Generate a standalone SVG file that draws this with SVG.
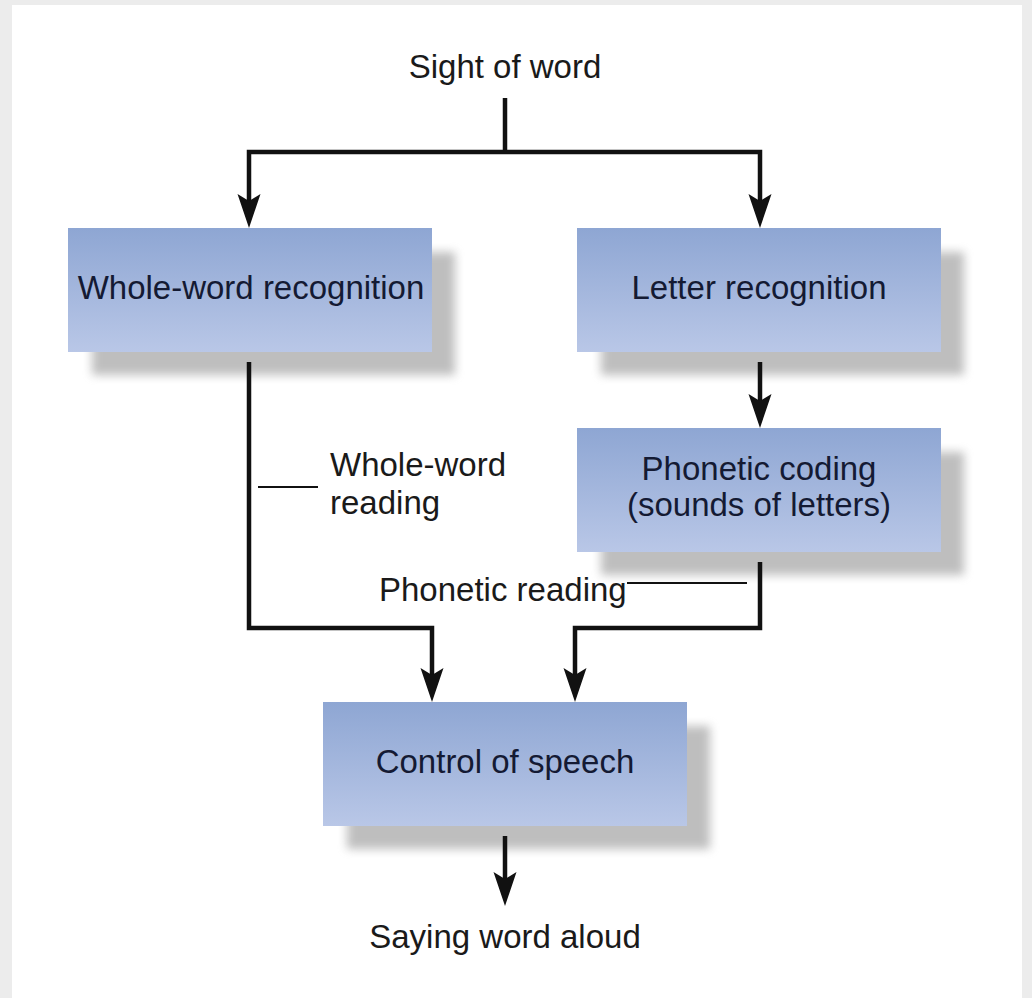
<svg xmlns="http://www.w3.org/2000/svg" width="1032" height="998" viewBox="0 0 1032 998">
  <defs>
    <linearGradient id="boxGrad" x1="0" y1="0" x2="0" y2="1">
      <stop offset="0" stop-color="#8ea6d3"/>
      <stop offset="1" stop-color="#b9c7e7"/>
    </linearGradient>
    <filter id="shadowBlur" x="-20%" y="-30%" width="140%" height="160%">
      <feGaussianBlur stdDeviation="5"/>
    </filter>
    <marker id="arrow" markerUnits="userSpaceOnUse" markerWidth="40" markerHeight="30" viewBox="0 -15 40 30" refX="8" refY="0" orient="auto">
      <path d="M0,-11.5 L34,0 L0,11.5 L7,0 Z" fill="#111"/>
    </marker>
    <style>
      .shadow { fill: #8a8a8a; opacity: 0.55; filter: url(#shadowBlur); }
      .box { fill: url(#boxGrad); }
      .btxt { font-family: "Liberation Sans", Arial, sans-serif; font-size: 33px; fill: #141a33; text-anchor: middle; }
      .lbl { font-family: "Liberation Sans", Arial, sans-serif; font-size: 33px; fill: #1a1a1a; }
      .conn { fill: none; stroke: #111; stroke-width: 4.5; stroke-linejoin: miter; }
      .lead { fill: none; stroke: #111; stroke-width: 2; }
    </style>
  </defs>

  <rect x="0" y="0" width="1032" height="998" fill="#ececec"/>
  <rect x="12" y="5" width="1010" height="993" fill="#ffffff"/>

  <g id="node-whole-word">
    <rect class="shadow" x="92" y="252" width="363" height="123"/>
    <rect class="box" x="68" y="228" width="364" height="124"/>
    <text class="btxt" x="251" y="299">Whole-word recognition</text>
  </g>

  <g id="node-letter">
    <rect class="shadow" x="601" y="252" width="363" height="123"/>
    <rect class="box" x="577" y="228" width="364" height="124"/>
    <text class="btxt" x="759" y="299">Letter recognition</text>
  </g>

  <g id="node-phonetic">
    <rect class="shadow" x="601" y="452" width="363" height="123"/>
    <rect class="box" x="577" y="428" width="364" height="124"/>
    <text class="btxt" x="759" y="480">Phonetic coding</text>
    <text class="btxt" x="759" y="516">(sounds of letters)</text>
  </g>

  <g id="node-control">
    <rect class="shadow" x="347" y="726" width="363" height="123"/>
    <rect class="box" x="323" y="702" width="364" height="124"/>
    <text class="btxt" x="505" y="773">Control of speech</text>
  </g>

  <g id="labels">
    <text class="lbl" x="505" y="78" text-anchor="middle">Sight of word</text>
    <text class="lbl" x="330" y="476">Whole-word</text>
    <text class="lbl" x="330" y="514">reading</text>
    <text class="lbl" x="379" y="601">Phonetic reading</text>
    <text class="lbl" x="505" y="948" text-anchor="middle">Saying word aloud</text>
  </g>

  <g id="connectors">
    <path class="conn" d="M505,98 L505,152"/>
    <path class="conn" d="M505,152 L249,152 L249,202" marker-end="url(#arrow)"/>
    <path class="conn" d="M505,152 L760,152 L760,202" marker-end="url(#arrow)"/>
    <path class="conn" d="M249,362 L249,628 L432,628 L432,676" marker-end="url(#arrow)"/>
    <path class="conn" d="M760,362 L760,402" marker-end="url(#arrow)"/>
    <path class="conn" d="M760,562 L760,628 L575,628 L575,676" marker-end="url(#arrow)"/>
    <path class="conn" d="M505,836 L505,880" marker-end="url(#arrow)"/>
    <path class="lead" d="M258,487 L318,487"/>
    <path class="lead" d="M627,583 L747,583"/>
  </g>
</svg>
